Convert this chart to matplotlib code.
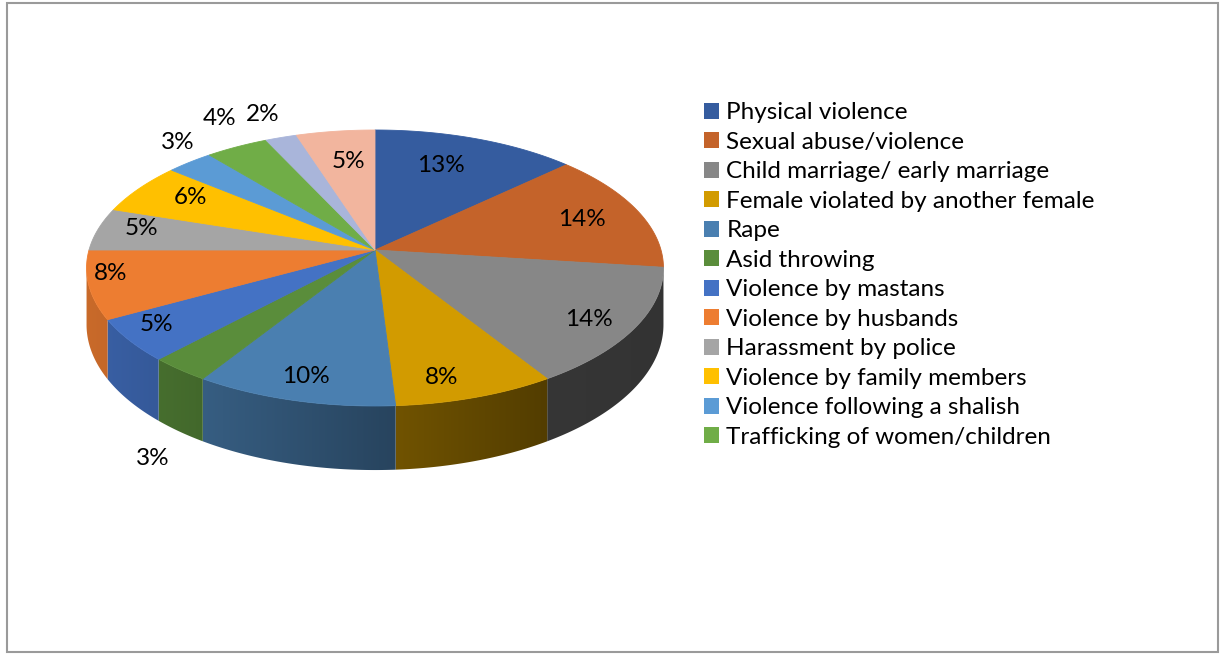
import numpy as np
import matplotlib.pyplot as plt
from matplotlib.colors import to_rgb
from matplotlib.patches import Polygon, Patch, Rectangle

# Share of reported cases per category (percent), clockwise from 12 o'clock
categories = [
    "Physical violence",
    "Sexual abuse/violence",
    "Child marriage/ early marriage",
    "Female violated by another female",
    "Rape",
    "Asid throwing",
    "Violence by mastans",
    "Violence by husbands",
    "Harassment by police",
    "Violence by family members",
    "Violence following a shalish",
    "Trafficking of women/children",
    "Other (13)",
    "Other (14)",
]
shares = [13, 14, 14, 8, 10, 3, 5, 8, 5, 6, 3, 4, 2, 5]
n_legend = 12  # the last two slices are not listed in the legend

colors = [
    "#355c9f", "#c4632a", "#878787", "#d29b00", "#4a7fb0", "#5a8d3b",
    "#4472c4", "#ed7d31", "#a5a5a5", "#ffc000", "#5b9bd5", "#70ad47",
    "#a9b5da", "#f2b59e",
]

# label placement: radius (fraction of pie radius) and angular nudge (deg)
label_r = [0.72, 0.78, 0.85, 0.86, 0.86, 1.12, 0.88, 0.92, 0.85, 0.79,
           1.17, 1.27, 1.23, 0.72]
label_nudge = [-3, 1, 2, 4, 0, 0, 2, 4, 2, 2, 4, 3, 0, 1]
label_outside = [False] * 14
for i in (5, 10, 11, 12):
    label_outside[i] = True

# geometry of the tilted pie, in pixels
CX, CY = 375.0, 250.0
RX, RY = 286.0, 135.65
PERSP = 0.1304
DEPTH = 55.7
# rim angles where the side wall turns away from the viewer
SIL_LO = np.degrees(np.arccos(-PERSP))
SIL_HI = 360.0 - SIL_LO
FONT = "Lato"
FSIZE = 17.5


def project(theta, r=1.0, z=0.0):
    """Map polar angle (deg, clockwise from top) to screen x, y."""
    t = np.radians(theta)
    u = r * np.sin(t)
    v = -r * np.cos(t)
    w = 1.0 / (1.0 - PERSP * v)
    return CX + RX * u * w, CY + (RY * v + DEPTH * z) * w


def wall_shade(x):
    # light comes from the left: the wall darkens toward the right
    return np.interp(x, [85, 200, 380, 540, 663], [0.85, 0.74, 0.55, 0.40, 0.38])


fig = plt.figure(figsize=(12.23, 6.56), dpi=100)
ax = fig.add_axes([0, 0, 1, 1])
ax.set_xlim(0, 1223)
ax.set_ylim(656, 0)
ax.axis("off")

bounds = np.concatenate([[0], np.cumsum(shares)]) / sum(shares) * 360.0

# side walls with a horizontal shading gradient
for i, (a0, a1) in enumerate(zip(bounds[:-1], bounds[1:])):
    lo, hi = max(a0, SIL_LO - 0.5), min(a1, SIL_HI + 0.5)
    if hi <= lo:
        continue
    angs = np.linspace(lo, hi, max(int((hi - lo) * 3), 2))
    xt, yt = project(angs)
    xb, yb = project(angs[::-1], z=1)
    pts = np.column_stack([np.concatenate([xt, xb]), np.concatenate([yt, yb])])
    wall = Polygon(pts, closed=True, facecolor="none", edgecolor="none")
    ax.add_patch(wall)
    x_lo, x_hi = pts[:, 0].min() - 1, pts[:, 0].max() + 1
    y_lo, y_hi = pts[:, 1].min() - 1, pts[:, 1].max() + 1
    gx = np.linspace(x_lo, x_hi, 200)
    grad = np.array(to_rgb(colors[i]))[None, None, :] * wall_shade(gx)[None, :, None]
    im = ax.imshow(grad, extent=[x_lo, x_hi, y_hi, y_lo], aspect="auto",
                   interpolation="bilinear", zorder=1)
    im.set_clip_path(wall)

# top faces
for i, (a0, a1) in enumerate(zip(bounds[:-1], bounds[1:])):
    angs = np.linspace(a0, a1, max(int((a1 - a0) * 2), 2))
    xs, ys = project(angs)
    pts = [project(0, r=0)] + list(zip(xs, ys))
    ax.add_patch(Polygon(pts, closed=True, facecolor=colors[i],
                         edgecolor=colors[i], linewidth=0.6, zorder=2))

# restore the data limits after imshow
ax.set_xlim(0, 1223)
ax.set_ylim(656, 0)

# percentage labels
for i, (a0, a1) in enumerate(zip(bounds[:-1], bounds[1:])):
    mid = (a0 + a1) / 2 + label_nudge[i]
    x, y = project(mid, r=label_r[i])
    if label_outside[i] and -np.cos(np.radians(mid)) > 0:
        _, yb = project(mid, r=label_r[i], z=1)
        y = yb + 10
    ax.text(x, y, f"{shares[i]}%", ha="center", va="center",
            fontsize=FSIZE, family=FONT, color="black", zorder=3)

# legend for the named categories
handles = [Patch(facecolor=colors[i], edgecolor="none")
           for i in range(n_legend)]
ax.legend(handles, categories[:n_legend], loc="upper left",
          bbox_to_anchor=(0.568, 0.859), frameon=False,
          prop={"family": FONT, "size": FSIZE},
          handlelength=0.62, handleheight=0.62, handletextpad=0.28,
          labelspacing=0.35, borderaxespad=0)

# chart-area border
ax.add_patch(Rectangle((7, 3), 1211, 649, fill=False,
                       edgecolor="#9a9a9a", linewidth=1.5, zorder=4))

fig.savefig("out.png", dpi=100, facecolor="white")
